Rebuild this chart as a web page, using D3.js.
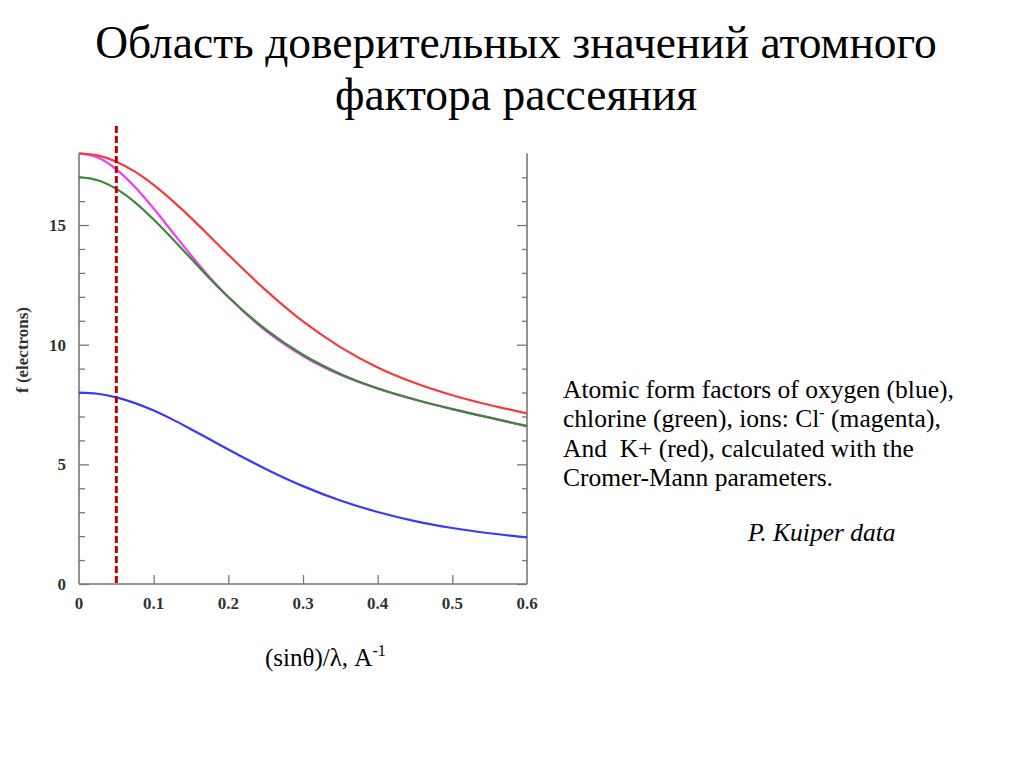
<!DOCTYPE html>
<html><head><meta charset="utf-8">
<script src="https://cdn.jsdelivr.net/npm/d3@7"></script>
<style>
html,body{margin:0;padding:0;background:#fff;}
svg{display:block;}
</style></head>
<body>
<script>
// Data (sinθ/λ in Å⁻¹ vs f in electrons)
const sValues   = [0, 0.025, 0.05, 0.075, 0.1, 0.125, 0.15, 0.175, 0.2, 0.25, 0.3, 0.35, 0.4, 0.45, 0.5, 0.55, 0.6];
const oxygen    = [8.00, 7.95, 7.80, 7.56, 7.25, 6.88, 6.47, 6.05, 5.62, 4.81, 4.09, 3.49, 3.01, 2.63, 2.34, 2.12, 1.95];
const chlorine  = [17.00, 16.87, 16.51, 15.95, 15.23, 14.43, 13.60, 12.77, 11.99, 10.64, 9.58, 8.78, 8.18, 7.71, 7.31, 6.95, 6.60];
const chlorideIon = [17.99, 17.82, 17.33, 16.59, 15.69, 14.71, 13.74, 12.82, 11.99, 10.59, 9.53, 8.74, 8.16, 7.70, 7.31, 6.95, 6.60];
const potassiumIon = [18.00, 17.91, 17.65, 17.23, 16.68, 16.02, 15.30, 14.53, 13.76, 12.28, 10.97, 9.90, 9.05, 8.40, 7.89, 7.48, 7.13];
const xTicks = [0, 0.1, 0.2, 0.3, 0.4, 0.5, 0.6];
const yMajorTicks = [0, 5, 10, 15];
const yMinorTicks = [1,2,3,4,6,7,8,9,11,12,13,14,16,17];
const markerS = 0.05;

const W = 1024, H = 768;
const svg = d3.select("body").append("svg").attr("width", W).attr("height", H);

const left = 79, right = 527, bottom = 584;
const x = d3.scaleLinear().domain([0, 0.6]).range([left, right]);
const y = d3.scaleLinear().domain([0, 18]).range([bottom, bottom - 18 * 23.93]);

const axisColor = "#777";
const tickFont = "'Liberation Serif', 'Times New Roman', serif";
const serif = "'Liberation Serif', 'Times New Roman', serif";

// frame: left, right, bottom
svg.append("line").attr("x1", left).attr("x2", left).attr("y1", bottom).attr("y2", y(18)).attr("stroke", axisColor).attr("stroke-width", 1.6);
svg.append("line").attr("x1", right).attr("x2", right).attr("y1", bottom).attr("y2", y(18)).attr("stroke", axisColor).attr("stroke-width", 1.6);
svg.append("line").attr("x1", left).attr("x2", right).attr("y1", bottom).attr("y2", bottom).attr("stroke", axisColor).attr("stroke-width", 1.6);

// y axis ticks, inward on both sides
[[d3.axisRight, left, 10, 6], [d3.axisLeft, right, 10, 5]].forEach(([fn, pos, maj, min]) => {
  [[yMajorTicks, maj], [yMinorTicks, min]].forEach(([vals, size]) => {
    const g = svg.append("g").attr("transform", `translate(${pos},0)`)
      .call(fn(y).tickValues(vals).tickSize(size).tickFormat(""));
    g.select(".domain").remove();
    g.selectAll("line").attr("stroke", axisColor).attr("stroke-width", 1.3);
  });
});
// y tick labels
svg.append("g").selectAll("text").data(yMajorTicks).join("text")
  .attr("x", 66).attr("y", d => y(d) + 6)
  .attr("text-anchor", "end")
  .attr("font-family", tickFont).attr("font-size", 17).attr("font-weight", "bold").attr("fill", "#333")
  .text(d => d);

// x axis ticks (inward) and labels
const gx = svg.append("g").attr("transform", `translate(0,${bottom})`)
  .call(d3.axisTop(x).tickValues(xTicks.filter(d => d > 0 && d < 0.6)).tickSize(9).tickFormat(""));
gx.select(".domain").remove();
gx.selectAll("line").attr("stroke", axisColor).attr("stroke-width", 1.3);
svg.append("g").selectAll("text").data(xTicks).join("text")
  .attr("x", d => x(d)).attr("y", 609)
  .attr("text-anchor", "middle")
  .attr("font-family", tickFont).attr("font-size", 17).attr("font-weight", "bold").attr("fill", "#333")
  .text(d => d === 0 ? "0" : d3.format(".1f")(d));

// y axis title
svg.append("text")
  .attr("transform", `translate(28,350) rotate(-90)`)
  .attr("text-anchor", "middle")
  .attr("font-family", tickFont).attr("font-size", 17).attr("font-weight", "bold").attr("fill", "#333")
  .text("f (electrons)");

// curves
const line = d3.line().x(d => x(d[0])).y(d => y(d[1])).curve(d3.curveMonotoneX);
const series = [
  {vals: oxygen, color: "#3a3af5"},
  {vals: chlorideIon, color: "#f53af5"},
  {vals: potassiumIon, color: "#f53a3a"},
  {vals: chlorine, color: "#3a8a3a"}
];
series.forEach(s => {
  svg.append("path").datum(sValues.map((v, i) => [v, s.vals[i]]))
    .attr("d", line).attr("fill", "none").attr("stroke", s.color).attr("stroke-width", 2.2);
});

// dashed marker
svg.append("line")
  .attr("x1", x(markerS)).attr("x2", x(markerS))
  .attr("y1", 126).attr("y2", bottom)
  .attr("stroke", "#c00000").attr("stroke-width", 3).attr("stroke-dasharray", "7,3");

// title
const title = svg.append("text").attr("text-anchor", "middle")
  .attr("font-family", serif).attr("font-size", 45.5).attr("fill", "#000");
title.append("tspan").attr("x", 516).attr("y", 58).text("Область доверительных значений атомного");
title.append("tspan").attr("x", 516).attr("y", 110).text("фактора рассеяния");

// x axis label
const xl = svg.append("text").attr("x", 265).attr("y", 666)
  .attr("font-family", serif).attr("font-size", 25).attr("fill", "#000");
xl.append("tspan").text("(sinθ)/λ, A");
xl.append("tspan").attr("dy", -10).attr("font-size", 16).text("-1");

// annotation
const ann = svg.append("g").attr("font-family", serif).attr("font-size", 25.5).attr("fill", "#000");
ann.append("text").attr("x", 563).attr("y", 398).text("Atomic form factors of oxygen (blue),");
const l2 = ann.append("text").attr("x", 563).attr("y", 427);
l2.append("tspan").text("chlorine (green), ions: Cl");
l2.append("tspan").attr("dy", -9).attr("font-size", 16).text("-");
l2.append("tspan").attr("dy", 9).text(" (magenta),");
ann.append("text").attr("x", 563).attr("y", 457).attr("xml:space", "preserve").text("And  K+ (red), calculated with the");
ann.append("text").attr("x", 563).attr("y", 486).text("Cromer-Mann parameters.");
ann.append("text").attr("x", 748).attr("y", 541).attr("font-style", "italic").text("P. Kuiper data");
</script>
</body></html>
